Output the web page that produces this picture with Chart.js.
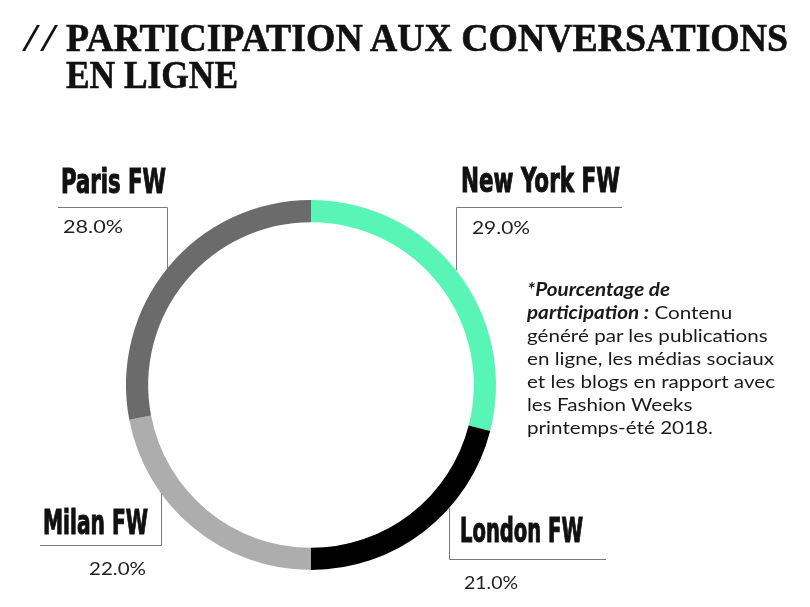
<!DOCTYPE html>
<html>
<head>
<meta charset="utf-8">
<script src="https://cdn.jsdelivr.net/npm/chart.js@4.4.1/dist/chart.umd.min.js"></script>
<style>
  html, body { margin: 0; padding: 0; background: #fff; }
  #wrap { position: relative; width: 810px; height: 607px; overflow: hidden; }
  #myChart { position: absolute; left: 0; top: 0; }
  .t { position: absolute; white-space: nowrap; transform-origin: 0 0; }
  .title { font-family: "Liberation Serif", serif; font-weight: bold; font-size: 40px; line-height: 40px; color: #111; -webkit-text-stroke: 0.6px #111; }
  .slash { font-family: "Liberation Serif", serif; font-weight: normal; font-size: 40px; line-height: 40px; color: #111; }
  .lbl { font-family: "Liberation Sans Narrow", "DejaVu Sans Condensed", sans-serif; font-weight: bold; font-size: 33px; line-height: 33px; color: #111; -webkit-text-stroke: 1px #111; }
  .pct { font-family: Lato, sans-serif; font-size: 18px; line-height: 18px; color: #222; }
  .note { left: 527px; top: 278px; font-family: Lato, sans-serif; font-size: 18px; line-height: 23px; color: #1a1a1a; }
  .note b { font-style: italic; }
</style>
</head>
<body>
<div id="wrap">
  <canvas id="myChart" width="810" height="607"></canvas>
  <div class="t slash" style="left:22px; top:18px;" data-w="36">//</div>
  <div class="t title" style="left:66px; top:18px;" data-w="722">PARTICIPATION AUX CONVERSATIONS</div>
  <div class="t title" style="left:66px; top:55px;" data-w="172">EN LIGNE</div>
  <div class="t note" data-w="248"><b>*Pourcentage de</b><br><b>participation :</b> Contenu<br>généré par les publications<br>en ligne, les médias sociaux<br>et les blogs en rapport avec<br>les Fashion Weeks<br>printemps-été 2018.</div>
</div>
<script>
// donut data
var labels = ["New York FW", "London FW", "Milan FW", "Paris FW"];
var values = [29, 21, 22, 28];
var colors = ["#58f5b7", "#000000", "#adadad", "#6b6b6b"];

// where each label sits, and its leader line (vx = vertical line x, hy = horizontal line y, hx = far end)
var spots = [
    { name: [461, 164, 159], pct: [472, 218, 58], vx: 456, hy: 207, hx: 622 },
    { name: [460, 514, 123], pct: [464, 573, 54], vx: 449, hy: 559, hx: 606 },
    { name: [43, 506, 105],  pct: [89, 559, 57],  vx: 161, hy: 545, hx: 40 },
    { name: [61, 165, 105],  pct: [63, 217, 60],  vx: 167, hy: 207, hx: 58 }
];

var wrap = document.getElementById("wrap");
for (var i = 0; i < labels.length; i++) {
    var s = spots[i];
    var n = document.createElement("div");
    n.className = "t lbl";
    n.style.left = s.name[0] + "px";
    n.style.top = s.name[1] + "px";
    n.setAttribute("data-w", s.name[2]);
    n.textContent = labels[i];
    wrap.append(n);
    var p = document.createElement("div");
    p.className = "t pct";
    p.style.left = s.pct[0] + "px";
    p.style.top = s.pct[1] + "px";
    p.setAttribute("data-w", s.pct[2]);
    p.textContent = values[i].toFixed(1) + "%";
    wrap.append(p);
}

// squeeze text to the widths seen in the picture
function fitText(){
    var els = document.querySelectorAll("[data-w]");
    for (var i = 0; i < els.length; i++) {
        var w = els[i].getBoundingClientRect().width;
        var target = parseFloat(els[i].getAttribute("data-w"));
        if (w > 0) els[i].style.transform = "scaleX(" + (target / w) + ")";
    }
}
fitText();

// leader lines from the labels down/up to the ring
var leaders = {
    id: "leaders",
    afterDraw: function(chart){
        var arc = chart.getDatasetMeta(0).data[0];
        var cx = arc.x, cy = arc.y, r = arc.outerRadius;
        var ctx = chart.ctx;
        ctx.save();
        ctx.strokeStyle = "#7a7a7a";
        ctx.lineWidth = 1;
        for (var i = 0; i < spots.length; i++) {
            var s = spots[i];
            var dx = s.vx - cx;
            var dy = Math.sqrt(Math.max(r * r - dx * dx, 0));
            var ey = s.hy < cy ? cy - dy : cy + dy;
            ctx.beginPath();
            ctx.moveTo(s.hx, s.hy + 0.5);
            ctx.lineTo(s.vx + 0.5, s.hy + 0.5);
            ctx.lineTo(s.vx + 0.5, ey);
            ctx.stroke();
        }
        ctx.restore();
    }
};

var ctx = document.getElementById("myChart").getContext("2d");
var myChart = new Chart(ctx, {
    type: "doughnut",
    data: {
        labels: labels,
        datasets: [{
            data: values,
            backgroundColor: colors,
            borderWidth: 0
        }]
    },
    options: {
        responsive: false,
        animation: false,
        cutout: "88%",
        layout: { padding: { left: 126, right: 314, top: 200, bottom: 37 } },
        plugins: {
            legend: { display: false },
            tooltip: { enabled: false }
        }
    },
    plugins: [leaders]
});
</script>
</body>
</html>
